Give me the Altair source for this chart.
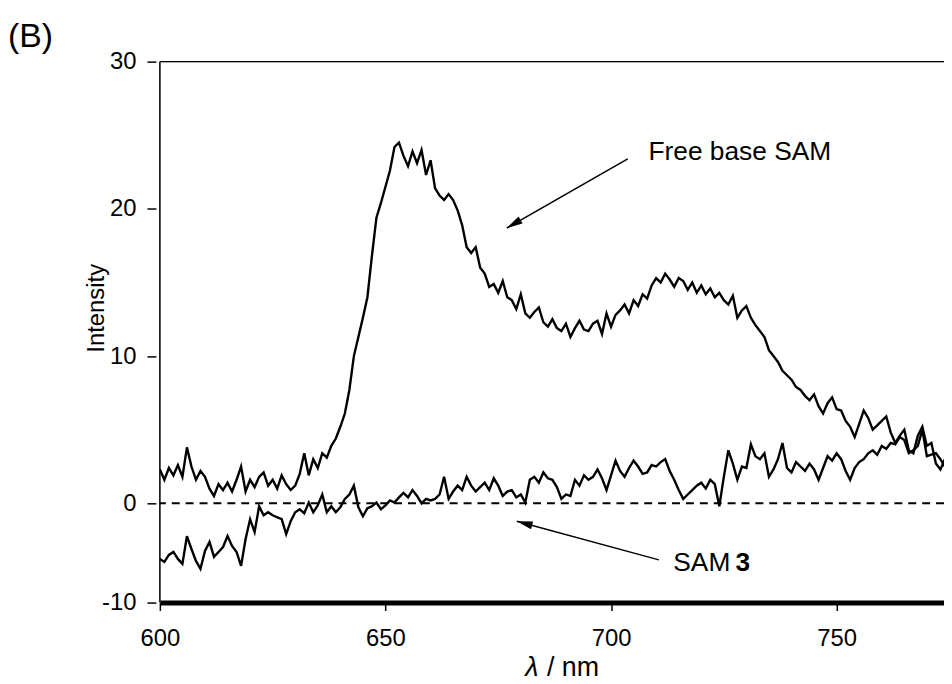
import altair as alt
import pandas as pd

# ---- data ----
wavelength = list(range(600, 775))

free_base = [
    2.3, 1.6, 2.4, 1.9, 2.6, 1.8, 3.8, 2.5, 1.6, 2.2,
    1.8, 1.0, 0.5, 1.3, 0.9, 1.4, 0.8, 1.6, 2.5, 0.8,
    1.6, 1.1, 1.8, 2.1, 1.2, 1.6, 1.0, 1.9, 1.3, 0.9,
    1.2, 2.0, 3.4, 1.9, 3.0, 2.4, 3.4, 3.1, 3.9, 4.4,
    5.2, 6.1, 7.7, 10.0, 11.3, 12.6, 14.0, 16.8, 19.4, 20.4,
    21.5, 22.6, 24.2, 24.5, 23.6, 22.9, 23.9, 23.1, 24.0, 22.3,
    23.3, 21.4, 20.9, 20.6, 21.0, 20.6, 19.9, 18.9, 17.4, 17.0,
    17.4, 16.0, 15.6, 14.7, 14.9, 14.3, 15.1, 14.0, 13.8, 13.2,
    14.2, 12.9, 12.6, 13.0, 13.3, 12.3, 12.0, 12.5, 11.9, 11.7,
    12.2, 11.3, 11.9, 12.4, 11.8, 11.7, 12.2, 12.4, 11.5, 12.9,
    12.0, 12.8, 13.1, 13.5, 12.9, 13.8, 13.4, 14.2, 13.9, 14.8,
    15.3, 15.0, 15.6, 15.2, 14.7, 15.3, 15.1, 14.5, 15.0, 14.3,
    14.8, 14.2, 14.6, 14.0, 14.3, 13.8, 13.5, 14.1, 12.6, 13.1,
    13.4, 12.6, 12.1, 11.7, 11.3, 10.4, 10.0, 9.6, 9.0, 8.7,
    8.4, 7.9, 7.7, 7.3, 7.0, 7.4, 6.6, 6.1, 6.8, 7.2,
    6.4, 6.3, 5.6, 5.2, 4.5, 5.4, 6.3, 5.8, 5.0, 5.3,
    5.6, 5.9, 4.8, 4.1, 4.6, 5.0, 3.6, 3.4, 4.6, 5.2,
    3.9, 4.1, 2.7, 2.3, 3.0,
]

sam3 = [
    -5.6, -5.9, -5.2, -4.9, -5.6, -6.1, -3.3, -4.6, -5.8, -6.6,
    -4.8, -3.9, -5.4, -4.9, -4.4, -3.3, -4.3, -4.9, -6.3, -3.6,
    -1.6, -2.9, -0.3, -1.2, -0.9, -1.2, -1.4, -1.6, -3.1, -1.8,
    -0.9, -0.6, -1.0, 0.05, -0.9, -0.2, 0.6, -0.9, -0.3, -0.9,
    -0.4, 0.3, 0.6, 1.2, -0.4, -1.3, -0.5, -0.3, 0.05, -0.6,
    -0.2, 0.2, 0.05, 0.4, 0.7, 0.4, 0.9, 0.5, 0.0, 0.3,
    0.2, 0.3, 0.6, 1.8, 0.3, 0.8, 1.2, 0.9, 1.8, 1.2,
    0.8, 1.1, 1.4, 0.9, 1.7, 1.2, 0.5, 0.8, 0.9, 0.4,
    0.6, 0.05, 1.6, 1.8, 1.4, 2.1, 1.7, 1.6, 1.1, 0.3,
    0.6, 0.5, 1.6, 1.2, 1.9, 1.6, 1.8, 2.3, 1.7, 0.9,
    1.9, 2.9, 2.2, 1.8, 2.4, 2.9, 2.5, 2.0, 2.1, 2.6,
    2.5, 2.8, 3.0, 2.2, 1.6, 0.9, 0.3, 0.6, 0.9, 1.2,
    1.4, 1.0, 1.6, 1.3, -0.3, 1.8, 3.6, 2.7, 1.6, 2.5,
    2.4, 4.0, 3.2, 3.0, 3.4, 1.8, 2.3, 3.0, 4.1, 2.4,
    2.1, 2.8, 2.5, 2.2, 2.7, 2.3, 1.6, 2.4, 3.2, 2.9,
    3.4, 3.0, 2.2, 1.6, 2.4, 2.8, 3.0, 3.4, 3.6, 3.3,
    3.9, 3.7, 4.1, 4.0, 4.5, 4.3, 3.4, 3.6, 3.9, 5.0,
    3.2, 3.3, 3.4, 3.0, 2.5,
]

x_ticks = [600, 650, 700, 750]
y_ticks = [-10, 0, 10, 20, 30]

# annotation arrows (tail -> tip, in data units)
arrow_x = [703.7, 710.6]
arrow_y = [23.4, -5.7]
arrow_x2 = [676.9, 679.1]
arrow_y2 = [18.7, -1.8]
arrow_angle = [240, 285]

label_text = ["Free base SAM", "SAM ", "3"]
label_x = [708.3, 713.8, 727.6]
label_y = [23.35, -6.8, -6.8]
label_weight = ["normal", "normal", "bold"]

# ---- layout ----
W, H = 790, 545
FONT = "Liberation Sans"

df = pd.DataFrame({
    "wl": wavelength * 2,
    "val": free_base + sam3,
    "series": ["Free base SAM"] * len(wavelength) + ["SAM 3"] * len(wavelength),
})

xscale = alt.Scale(domain=[600, 773.8], nice=False, zero=False)
yscale = alt.Scale(domain=[-10, 0, 30], range=[H, H - 100, 0], nice=False, zero=False)

x_axis = alt.Axis(
    values=x_ticks, title=None, grid=False, labelFlush=False,
    domainColor="black", domainWidth=5,
    tickColor="black", tickWidth=1.5, tickSize=8,
    labelFont=FONT, labelFontSize=24, labelColor="black", labelPadding=16,
)
y_axis = alt.Axis(
    values=y_ticks, title="Intensity", grid=False, domain=False, offset=4,
    labelExpr="'' + datum.value", labelFlush=False,
    tickColor="black", tickWidth=1.5, tickSize=9,
    labelFont=FONT, labelFontSize=24, labelColor="black", labelPadding=11,
    titleFont=FONT, titleFontSize=24, titleFontWeight="normal", titleColor="black",
    titleAngle=270, titleBaseline="alphabetic", titleX=-53, titleY=248,
)

lines = alt.Chart(df).mark_line(color="black", strokeWidth=2.4, clip=True).encode(
    x=alt.X("wl:Q", scale=xscale, axis=x_axis),
    y=alt.Y("val:Q", scale=yscale, axis=y_axis),
    detail="series:N",
)

zero_line = alt.Chart(pd.DataFrame({"v": [0]})).mark_rule(
    color="black", strokeWidth=2, strokeDash=[8, 6]
).encode(y=alt.Y("v:Q", scale=yscale, axis=y_axis))

dummy = pd.DataFrame({"a": [0]})
frame_left = alt.Chart(dummy).mark_rule(color="black", strokeWidth=1.5).encode(
    x=alt.value(0), y=alt.value(0), y2=alt.value(H))
frame_top = alt.Chart(dummy).mark_rule(color="black", strokeWidth=1.5).encode(
    y=alt.value(0), x=alt.value(0), x2=alt.value(W))

arrows_df = pd.DataFrame({"x": arrow_x, "y": arrow_y, "x2": arrow_x2,
                          "y2": arrow_y2, "angle": arrow_angle})
arrow_lines = alt.Chart(arrows_df).mark_rule(color="black", strokeWidth=1.5).encode(
    x=alt.X("x:Q", scale=xscale, axis=x_axis),
    y=alt.Y("y:Q", scale=yscale, axis=y_axis),
    x2="x2:Q", y2="y2:Q",
)
arrow_heads = alt.Chart(arrows_df).mark_point(
    shape="M0,0L0.5,2L-0.5,2Z", filled=True, size=256, color="black",
    opacity=1, strokeWidth=0,
).encode(
    x=alt.X("x2:Q", scale=xscale, axis=x_axis),
    y=alt.Y("y2:Q", scale=yscale, axis=y_axis),
    angle=alt.Angle("angle:Q", scale=None),
)

labels_df = pd.DataFrame({"t": label_text, "x": label_x, "y": label_y, "w": label_weight})
labels_regular = alt.Chart(labels_df[labels_df.w == "normal"]).mark_text(
    align="left", baseline="alphabetic", font=FONT, fontSize=26.5, color="black"
).encode(
    x=alt.X("x:Q", scale=xscale, axis=x_axis),
    y=alt.Y("y:Q", scale=yscale, axis=y_axis),
    text="t:N",
)
labels_bold = alt.Chart(labels_df[labels_df.w == "bold"]).mark_text(
    align="left", baseline="alphabetic", font=FONT, fontSize=26.5, fontWeight="bold",
    color="black"
).encode(
    x=alt.X("x:Q", scale=xscale, axis=x_axis),
    y=alt.Y("y:Q", scale=yscale, axis=y_axis),
    text="t:N",
)

panel = alt.Chart(dummy).mark_text(
    align="left", baseline="alphabetic", font=FONT, fontSize=34, color="black"
).encode(x=alt.value(-153), y=alt.value(-14.5), text=alt.value("(B)"))

xt_lambda = alt.Chart(dummy).mark_text(
    align="left", baseline="alphabetic", font=FONT, fontSize=27, fontStyle="italic",
    color="black"
).encode(x=alt.value(368), y=alt.value(619), text=alt.value("λ"))
xt_rest = alt.Chart(dummy).mark_text(
    align="left", baseline="alphabetic", font=FONT, fontSize=27, color="black"
).encode(x=alt.value(390), y=alt.value(619), text=alt.value("/ nm"))

chart = alt.layer(
    lines, zero_line, frame_left, frame_top, arrow_lines, arrow_heads,
    labels_regular, labels_bold, panel, xt_lambda, xt_rest,
).properties(
    width=W, height=H,
    autosize=alt.AutoSizeParams(type="none"),
    padding={"left": 153, "top": 51.5, "right": 0, "bottom": 79.5},
).configure_view(stroke=None).configure(background="white")

chart.save("out.html", embed_options={"renderer": "svg", "actions": False})
